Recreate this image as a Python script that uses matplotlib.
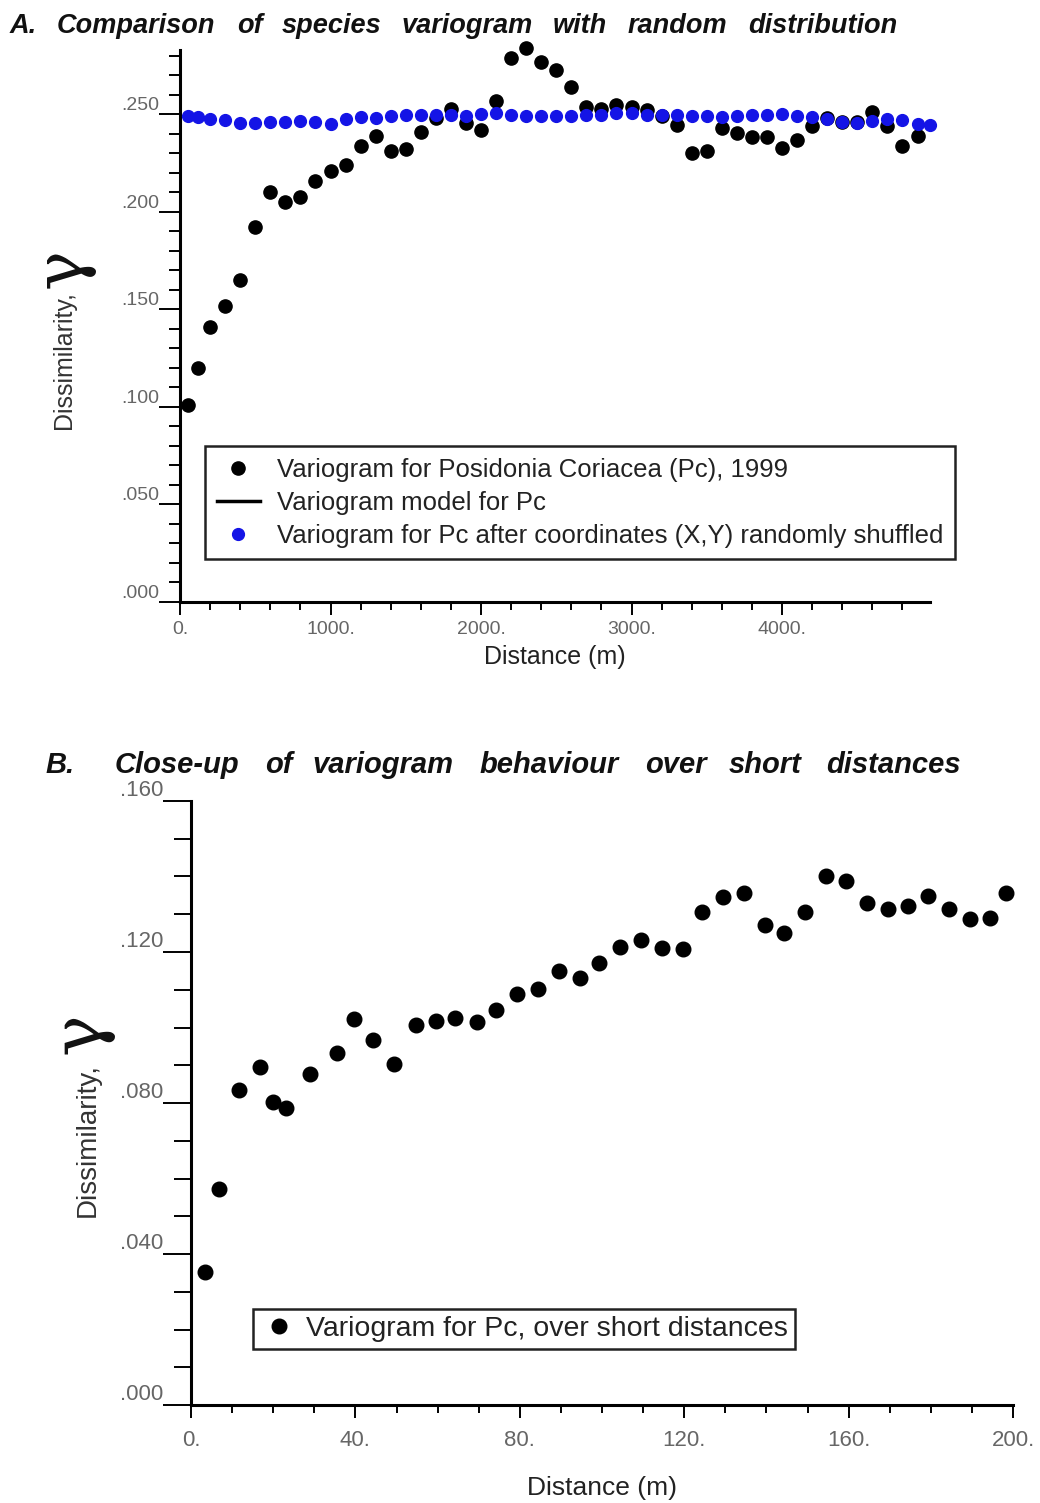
import matplotlib.pyplot as plt
from matplotlib.ticker import FixedLocator, MultipleLocator

plt.rcParams['font.family'] = ['Liberation Sans', 'DejaVu Sans']

W, H = 1040, 1503

# ---- panel A data ----
lag_a = [50, 120, 200, 300, 400, 500, 600, 700, 800, 900, 1000, 1100, 1200,
         1300, 1400, 1500, 1600, 1700, 1800, 1900, 2000, 2100, 2200, 2300,
         2400, 2500, 2600, 2700, 2800, 2900, 3000, 3100, 3200, 3300, 3400,
         3500, 3600, 3700, 3800, 3900, 4000, 4100, 4200, 4300, 4400, 4500,
         4600, 4700, 4800, 4900]
gamma_pc = [0.101, 0.120, 0.141, 0.152, 0.165, 0.192, 0.210, 0.205, 0.2075,
            0.216, 0.221, 0.224, 0.234, 0.239, 0.231, 0.232, 0.241, 0.248,
            0.2526, 0.2455, 0.242, 0.257, 0.279, 0.284, 0.277, 0.273, 0.264,
            0.254, 0.253, 0.2546, 0.254, 0.252, 0.249, 0.2446, 0.2304, 0.2313,
            0.243, 0.2404, 0.2386, 0.2383, 0.233, 0.237, 0.244, 0.248, 0.246,
            0.246, 0.2514, 0.244, 0.2338, 0.239]
lag_shuf = [50, 120, 200, 300, 400, 500, 600, 700, 800, 900, 1000, 1100, 1200,
            1300, 1400, 1500, 1600, 1700, 1800, 1900, 2000, 2100, 2200, 2300,
            2400, 2500, 2600, 2700, 2800, 2900, 3000, 3100, 3200, 3300, 3400,
            3500, 3600, 3700, 3800, 3900, 4000, 4100, 4200, 4300, 4400, 4500,
            4600, 4700, 4800, 4900, 4980]
gamma_shuf = [0.249, 0.2486, 0.2475, 0.247, 0.2458, 0.2455, 0.2463, 0.2463,
              0.2468, 0.2463, 0.245, 0.2475, 0.2486, 0.248, 0.2493, 0.2495,
              0.2495, 0.2495, 0.2495, 0.249, 0.2503, 0.2506, 0.2497, 0.249,
              0.249, 0.249, 0.249, 0.2497, 0.2497, 0.2506, 0.2506, 0.2497,
              0.2497, 0.2497, 0.249, 0.249, 0.2486, 0.249, 0.2497, 0.2497,
              0.2503, 0.2493, 0.2486, 0.2475, 0.2463, 0.2458, 0.2468, 0.2475,
              0.2472, 0.245, 0.2445]
a_xticks = [0, 1000, 2000, 3000, 4000]
a_xlabels = ['0.', '1000.', '2000.', '3000.', '4000.']
a_yticks = [0.0, 0.05, 0.10, 0.15, 0.20, 0.25]
a_ylabels = ['.000', '.050', '.100', '.150', '.200', '.250']

# ---- panel B data ----
lag_b = [3.3, 6.7, 11.6, 16.7, 20.0, 23.2, 28.9, 35.5, 39.7, 44.3, 49.4, 54.7,
         59.5, 64.2, 69.7, 74.3, 79.4, 84.4, 89.6, 94.7, 99.3, 104.3, 109.4,
         114.6, 119.6, 124.4, 129.4, 134.6, 139.7, 144.3, 149.5, 154.5, 159.3,
         164.4, 169.5, 174.4, 179.4, 184.5, 189.6, 194.4, 198.2]
gamma_b = [0.0352, 0.0571, 0.0834, 0.0896, 0.0803, 0.0786, 0.0877, 0.0933,
           0.1022, 0.0967, 0.0903, 0.1007, 0.1018, 0.1024, 0.1015, 0.1046,
           0.1089, 0.1102, 0.115, 0.1132, 0.1172, 0.1214, 0.1232, 0.121,
           0.1208, 0.1305, 0.1345, 0.1356, 0.1271, 0.1251, 0.1306, 0.14,
           0.1387, 0.1329, 0.1314, 0.1322, 0.1349, 0.1314, 0.1287, 0.1291,
           0.1357]
b_xticks = [0, 40, 80, 120, 160, 200]
b_xlabels = ['0.', '40.', '80.', '120.', '160.', '200.']
b_yticks = [0.0, 0.04, 0.08, 0.12, 0.16]
b_ylabels = ['.000', '.040', '.080', '.120', '.160']

title_a = ['A.', 'Comparison', 'of', 'species', 'variogram', 'with', 'random',
           'distribution']
title_b = ['B.', 'Close-up', 'of', 'variogram', 'behaviour', 'over', 'short',
           'distances']


def box(x0, y0, x1, y1):
    # pixel box -> figure fraction [left, bottom, width, height]
    return [x0 / W, 1 - y1 / H, (x1 - x0) / W, (y1 - y0) / H]


def style(ax, maj, mnr, lsize, xpad):
    for s in ['top', 'right']:
        ax.spines[s].set_visible(False)
    for s in ['left', 'bottom']:
        ax.spines[s].set_linewidth(2.2)
    ax.tick_params(axis='y', which='major', length=maj, width=1.4, pad=0,
                   labelsize=lsize, labelcolor='#666666')
    ax.tick_params(axis='y', which='minor', length=mnr, width=1.4)
    ax.tick_params(axis='x', which='major', length=9, width=1.4, pad=xpad,
                   labelsize=lsize, labelcolor='#666666')
    ax.tick_params(axis='x', which='minor', length=6, width=1.4)
    for t in ax.get_yticklabels():
        t.set_va('bottom')


def spaced_title(words, xs, y, size):
    for w, x in zip(words, xs):
        fig.text(x / W, 1 - y / H, w, fontsize=size, fontweight='bold',
                 fontstyle='italic', va='baseline', ha='left', color='#111111')


fig = plt.figure(figsize=(W / 100, H / 100), dpi=100)

# ---------------- A ----------------
axA = fig.add_axes(box(180, 50, 930, 602))
axA.plot(lag_a, gamma_pc, 'o', color='black', ms=9.5, clip_on=False, zorder=3,
         label='Variogram for Posidonia Coriacea (Pc), 1999')
axA.plot([], [], '-', color='black', lw=2.5, label='Variogram model for Pc')
axA.plot(lag_shuf, gamma_shuf, 'o', color='#1414e6', ms=8.5, clip_on=False,
         zorder=4,
         label='Variogram for Pc after coordinates (X,Y) randomly shuffled')
axA.set_xlim(0, 4983)
axA.set_ylim(0, 0.283)
axA.xaxis.set_major_locator(FixedLocator(a_xticks))
axA.set_xticklabels(a_xlabels)
axA.xaxis.set_minor_locator(MultipleLocator(200))
axA.yaxis.set_major_locator(FixedLocator(a_yticks))
axA.set_yticklabels(a_ylabels)
axA.yaxis.set_minor_locator(MultipleLocator(0.01))
style(axA, 15, 8, 14, 5)
axA.set_xlabel('Distance (m)', fontsize=18, color='#222222', labelpad=5)
legA = axA.legend(loc='upper left', bbox_to_anchor=(205 / W, 1 - 446 / H),
                  bbox_transform=fig.transFigure, fontsize=18.5, frameon=True,
                  fancybox=False, edgecolor='#222222', framealpha=1,
                  handlelength=1.7, handletextpad=0.65, borderpad=0.45,
                  labelspacing=0.35, borderaxespad=0)
legA.get_frame().set_linewidth(1.8)
for t in legA.get_texts():
    t.set_color('#222222')

spaced_title(title_a, [10, 57, 237, 282, 402, 553, 628, 748], 33, 19.5)
fig.text(64 / W, 1 - 360 / H, 'Dissimilarity,', rotation=90, fontsize=18,
         color='#333333', ha='center', va='center')
fig.text(62 / W, 1 - 268 / H, '\u03b3', rotation=90, fontsize=48,
         color='#111111', ha='center', va='center', family='DejaVu Serif')

# ---------------- B ----------------
axB = fig.add_axes(box(191, 801, 1013, 1405))
axB.plot(lag_b, gamma_b, 'o', color='black', ms=10.5, clip_on=False,
         label='Variogram for Pc, over short distances')
axB.set_xlim(0, 200)
axB.set_ylim(0, 0.16)
axB.xaxis.set_major_locator(FixedLocator(b_xticks))
axB.set_xticklabels(b_xlabels)
axB.xaxis.set_minor_locator(MultipleLocator(10))
axB.yaxis.set_major_locator(FixedLocator(b_yticks))
axB.set_yticklabels(b_ylabels)
axB.yaxis.set_minor_locator(MultipleLocator(0.01))
style(axB, 20, 12, 16, 9)
axB.set_xlabel('Distance (m)', fontsize=19, color='#222222', labelpad=18)
legB = axB.legend(loc='upper left', bbox_to_anchor=(253 / W, 1 - 1309 / H),
                  bbox_transform=fig.transFigure, fontsize=20.5, frameon=True,
                  fancybox=False, edgecolor='#222222', framealpha=1,
                  handlelength=1.3, handletextpad=0.3, borderpad=0.25,
                  borderaxespad=0)
legB.get_frame().set_linewidth(1.8)
for t in legB.get_texts():
    t.set_color('#222222')

spaced_title(title_b, [45, 115, 265, 312, 480, 645, 729, 826], 773, 21)
fig.text(88 / W, 1 - 1140 / H, 'Dissimilarity,', rotation=90, fontsize=20,
         color='#333333', ha='center', va='center')
fig.text(80 / W, 1 - 1033 / H, '\u03b3', rotation=90, fontsize=50,
         color='#111111', ha='center', va='center', family='DejaVu Serif')

fig.savefig('out.png', dpi=100)
